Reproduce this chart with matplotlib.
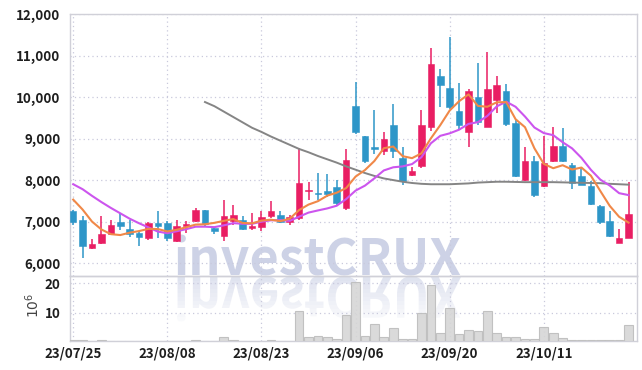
import numpy as np
import matplotlib
matplotlib.use('Agg')
import matplotlib.pyplot as plt
from matplotlib.textpath import TextPath
from matplotlib.patches import PathPatch, Rectangle
from matplotlib.font_manager import FontProperties
from matplotlib.transforms import Affine2D, IdentityTransform

dates = ['23/07/25', '23/07/26', '23/07/27', '23/07/28', '23/07/31', '23/08/01', '23/08/02', '23/08/03',
         '23/08/04', '23/08/07', '23/08/08', '23/08/09', '23/08/10', '23/08/11', '23/08/14', '23/08/16',
         '23/08/17', '23/08/18', '23/08/21', '23/08/22', '23/08/23', '23/08/24', '23/08/25', '23/08/28',
         '23/08/29', '23/08/30', '23/08/31', '23/09/01', '23/09/04', '23/09/05', '23/09/06', '23/09/07',
         '23/09/08', '23/09/11', '23/09/12', '23/09/13', '23/09/14', '23/09/15', '23/09/18', '23/09/19',
         '23/09/20', '23/09/21', '23/09/22', '23/09/25', '23/09/26', '23/09/27', '23/10/04', '23/10/05',
         '23/10/06', '23/10/10', '23/10/11', '23/10/12', '23/10/13', '23/10/16', '23/10/17', '23/10/18',
         '23/10/19', '23/10/20', '23/10/23', '23/10/24']

opens = [7250, 7050, 6370, 6490, 6700, 6990, 6830, 6730, 6610, 6960,
         6960, 6540, 6890, 7010, 7290, 6840, 6660, 7010, 7050, 6850,
         6870, 7130, 7170, 6990, 7090, 7730, 7700, 7730, 7830, 7330,
         9790, 9050, 8790, 8710, 9330, 8530, 8130, 8330, 9290, 10510,
         10210, 9670, 9150, 9990, 9290, 9920, 10150, 9370, 8010, 8450,
         7850, 8450, 8830, 8370, 8090, 7850, 7370, 7010, 6490, 6610]
highs = [7290, 7140, 6580, 7140, 7050, 7210, 7040, 6770, 6990, 7250,
         7010, 7040, 7010, 7330, 7290, 6880, 7510, 7410, 7140, 7210,
         7250, 7490, 7250, 7170, 8770, 7950, 8170, 8150, 8000, 8750,
         10370, 9070, 9690, 9150, 9840, 8800, 8310, 9690, 11180, 10670,
         11450, 10350, 10190, 10810, 11090, 10510, 10320, 9450, 8800, 8590,
         9050, 9290, 9250, 8410, 8290, 7970, 7390, 7250, 6830, 7950]
lows = [6930, 6135, 6340, 6460, 6690, 6800, 6630, 6410, 6550, 6600,
        6530, 6520, 6720, 6990, 6900, 6690, 6540, 6930, 6800, 6790,
        6770, 7090, 6970, 6930, 7050, 7530, 7520, 7590, 7380, 7290,
        9100, 8410, 8630, 8610, 8530, 7870, 8090, 8290, 9190, 9770,
        9700, 9210, 8800, 9330, 9270, 9610, 9300, 8070, 7990, 7590,
        7830, 8430, 8430, 7790, 7870, 7410, 6950, 6630, 6490, 6600]
closes = [7000, 6420, 6450, 6690, 6930, 6890, 6710, 6640, 6960, 6900,
          6610, 6900, 6950, 7280, 6940, 6780, 7140, 7170, 6810, 6890,
          7110, 7250, 6990, 7110, 7930, 7770, 7660, 7660, 7460, 8490,
          9150, 8450, 8750, 9000, 8690, 7990, 8210, 9330, 10800, 10290,
          9750, 9330, 10150, 9410, 10190, 10290, 9350, 8090, 8450, 7650,
          8410, 8830, 8450, 7930, 7890, 7430, 6990, 6660, 6610, 7190]

ma5 = [7530, 7290, 7000, 6810, 6698, 6676, 6734, 6772, 6826, 6820,
       6764, 6802, 6864, 6928, 6936, 6970, 7018, 7062, 6968, 6958,
       7024, 7046, 7010, 7070, 7278, 7410, 7492, 7626, 7696, 7808,
       8084, 8242, 8460, 8768, 8808, 8576, 8528, 8644, 9004, 9324,
       9676, 9900, 10064, 9786, 9766, 9874, 9878, 9466, 9274, 8766,
       8390, 8286, 8358, 8254, 8302, 8106, 7738, 7380, 7116, 6976]
ma10 = [7900, 7780, 7620, 7470, 7330, 7200, 7070, 6960, 6860, 6759,
        6720, 6768, 6818, 6877, 6878, 6867, 6910, 6963, 6948, 6947,
        6997, 7032, 7036, 7019, 7118, 7217, 7269, 7318, 7383, 7543,
        7747, 7867, 8043, 8232, 8308, 8330, 8385, 8552, 8886, 9066,
        9126, 9214, 9354, 9395, 9545, 9775, 9889, 9765, 9530, 9266,
        9132, 9082, 8912, 8764, 8534, 8248, 8012, 7869, 7685, 7639]
ma60 = [np.nan] * 14 + [
        9880, 9780, 9650, 9520, 9390, 9260,
        9160, 9050, 8950, 8850, 8750, 8670, 8580, 8500, 8420, 8330,
        8250, 8170, 8100, 8040, 8000, 7960, 7930, 7910, 7900, 7900,
        7900, 7910, 7920, 7940, 7950, 7960, 7960, 7955, 7950, 7950,
        7950, 7950, 7945, 7940, 7935, 7930, 7925, 7910, 7900, 7890]

volume = [0.5, 0.55, 0.35, 0.55, 0.35, 0.35, 0.35, 0.35, 0.35, 0.35,
          0.35, 0.35, 0.35, 0.55, 0.35, 0.35, 1.6, 0.6, 0.35, 0.35,
          0.35, 0.55, 0.35, 0.35, 10.6, 1.6, 1.9, 1.5, 0.95, 9.2,
          20.3, 2.1, 6.2, 1.8, 4.7, 1.05, 1.05, 9.8, 19.4, 3.2,
          11.6, 2.75, 4.0, 3.7, 10.5, 3.2, 1.5, 1.7, 1.05, 0.95,
          5.0, 3.1, 1.3, 0.7, 0.6, 0.6, 0.6, 0.6, 0.5, 5.8]

tick_idx = [0, 10, 20, 30, 40, 50]
price_ticks = [6000, 7000, 8000, 9000, 10000, 11000, 12000]
vol_ticks = [10, 20]
watermark = 'investCRUX'

UP = '#e91e63'
DOWN = '#2e96c8'
GRID = '#c9c9dc'
SPINE = '#d0d0d8'
TXT = '#1e1e1e'

FONT = 'Noto Sans CJK SC'
lab_font = dict(family=FONT, weight='bold', size=9.6)

fig = plt.figure(figsize=(6.42, 3.70), dpi=100)
fig.patch.set_facecolor('white')
L, W = 70 / 642, (637 - 70) / 642
ax = fig.add_axes([L, 1 - 276 / 370, W, (276 - 14) / 370])
axv = fig.add_axes([L, 1 - 341 / 370, W, (341 - 276) / 370], sharex=ax)

# watermark: real text, plus a fading mirrored reflection below it
wm_prop = FontProperties(family=FONT, weight='bold')
tp = TextPath((0, 0), watermark, size=1, prop=wm_prop)
ext = tp.get_extents()
x0p, x1p, base = 177, 461, 370 - 276
spx = (x1p - x0p) / (ext.x1 - ext.x0)          # font size in pixels
fig.text((x0p - ext.x0 * spx) / 642, base / 370, watermark, fontproperties=wm_prop,
         fontsize=spx * 72 / 100, color='#cdd2e6', ha='left', va='baseline', zorder=0.5)
trr = Affine2D().translate(-ext.x0, 0).scale(spx, -spx * 1.1).translate(x0p, base - 1)
rpath = trr.transform_path(tp)
nb = 12
for k in range(nb):
    ytop = base - 1 - k * 4
    rect = Rectangle((0, ytop - 4), 642, 4, transform=IdentityTransform())
    p = PathPatch(rpath, facecolor='#d8dcec', edgecolor='none', alpha=max(0.0, 0.8 * (1 - k / nb)),
                  transform=IdentityTransform(), zorder=0.5)
    p.set_clip_path(rect)
    fig.patches.append(p)

for a in (ax, axv):
    a.set_facecolor('none')
    a.set_zorder(2)
    for s in a.spines.values():
        s.set_color(SPINE)
        s.set_linewidth(1.0)
    a.grid(True, color=GRID, linestyle=(0, (1, 2.5)), linewidth=0.9)
    a.set_axisbelow(True)
    a.tick_params(length=0, colors=TXT)

x = np.arange(len(closes))
o = np.array(opens, float)
c = np.array(closes, float)
colors = [UP if cc >= oo else DOWN for oo, cc in zip(o, c)]
ax.vlines(x, lows, highs, colors=colors, linewidth=1.1, zorder=3)
bottoms = np.minimum(o, c)
heights = np.maximum(np.abs(c - o), 25)
ax.bar(x, heights, bottom=bottoms, width=0.7, color=colors, edgecolor=colors, linewidth=0.4, zorder=4)

ax.plot(x, ma60, color='#858585', linewidth=1.4, zorder=5)
ax.plot(x, ma10, color='#cc55ee', linewidth=1.5, zorder=5)
ax.plot(x, ma5, color='#f08848', linewidth=1.5, zorder=6)

ax.set_ylim(5690, 12000)
ax.set_yticks(price_ticks)
ax.set_yticklabels([f'{v:,}' for v in price_ticks], fontdict=lab_font)
ax.set_xlim(-0.34, 59.9)
ax.set_xticks(tick_idx)
plt.setp(ax.get_xticklabels(), visible=False)

axv.bar(x, volume, width=0.92, color='#d6d6d6', edgecolor='#bdbdbd', linewidth=0.8, alpha=0.9, zorder=3)
axv.set_ylim(0.3, 22.5)
axv.set_yticks(vol_ticks)
axv.set_yticklabels([str(v) for v in vol_ticks], fontdict=lab_font)
axv.set_xticks(tick_idx)
axv.set_xticklabels([dates[i] for i in tick_idx], fontdict=lab_font)
axv.tick_params(axis='x', pad=4)
axv.tick_params(axis='y', pad=7)
ax.tick_params(axis='y', pad=7)

fig.text(33 / 642, 1 - 305 / 370, r'$10^6$', rotation=90, ha='center', va='center',
         fontsize=10, color='#444444')

fig.savefig('out.png', dpi=100)
